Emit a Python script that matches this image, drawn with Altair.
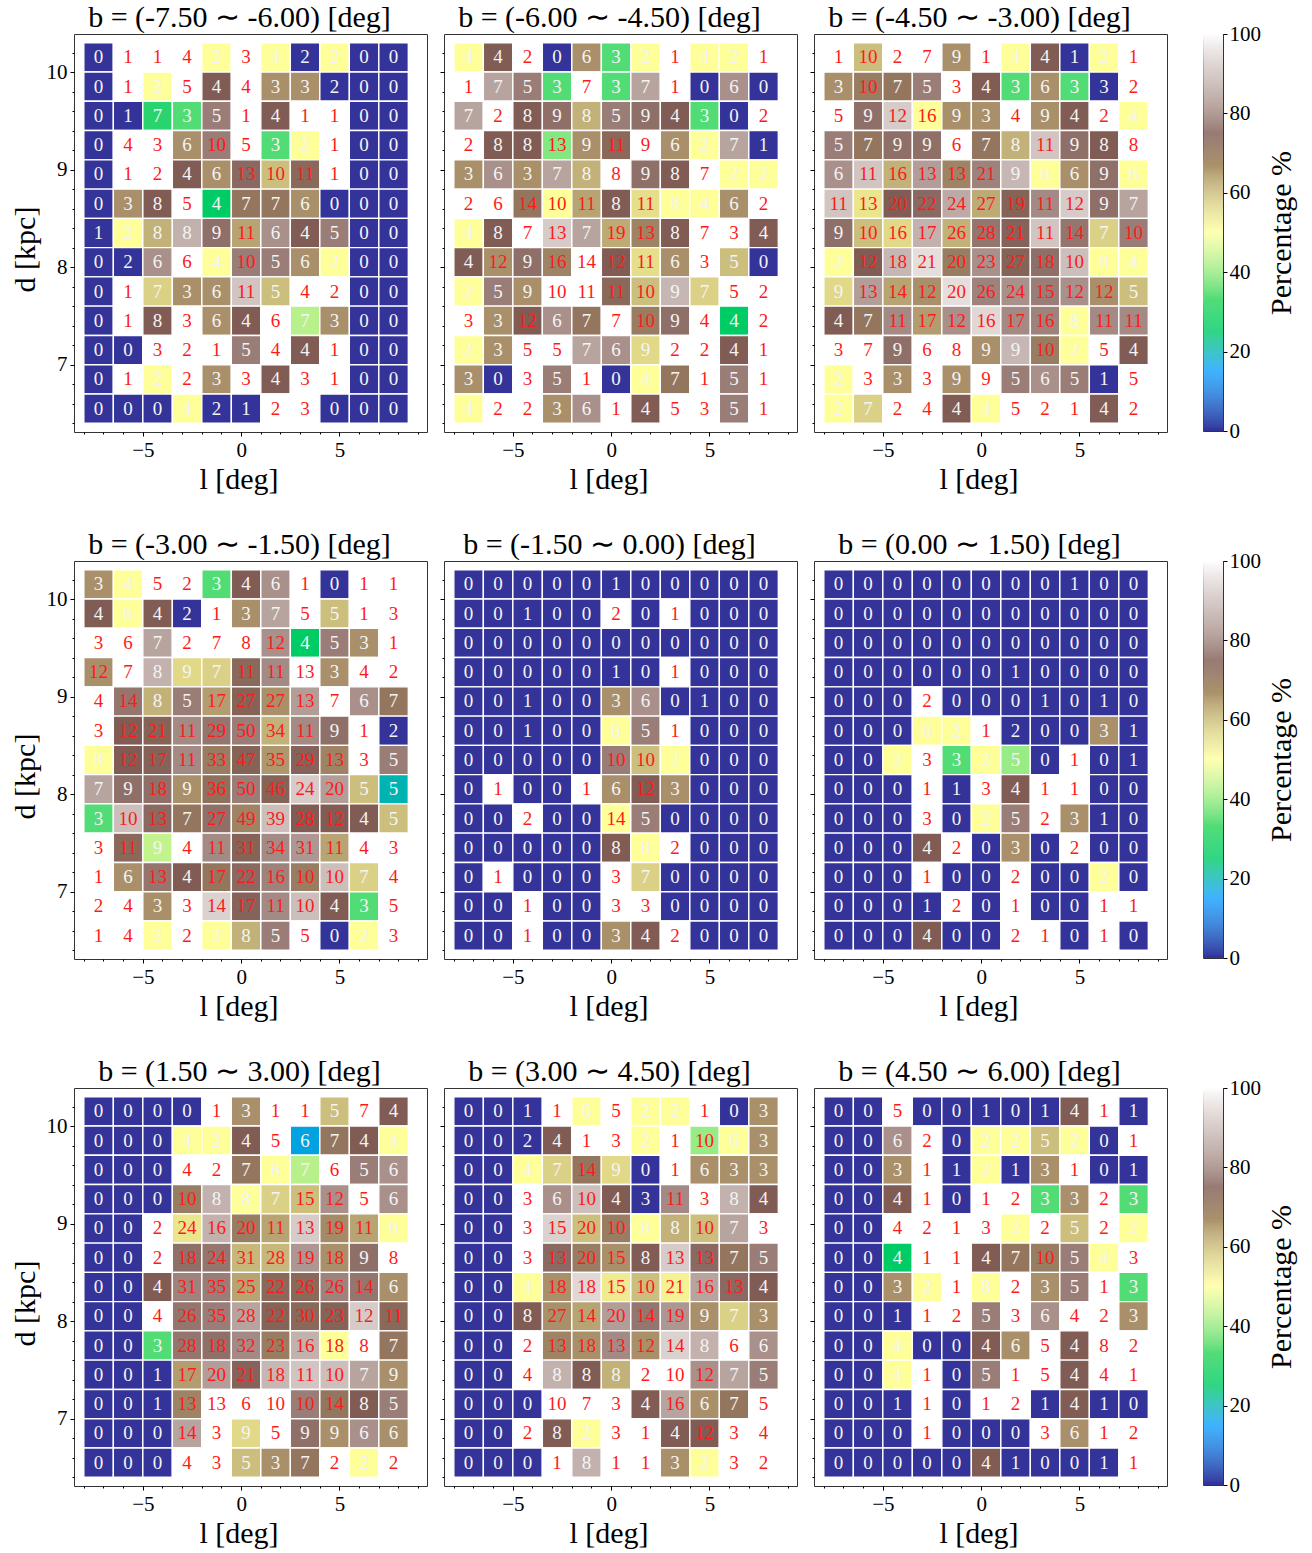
import altair as alt
import numpy as np
import pandas as pd

# Bin centres of the grid (columns in l, rows in d from top to bottom)
L_CENTERS = [-7.25, -5.75, -4.25, -2.75, -1.25, 0.25, 1.75, 3.25, 4.75, 6.25, 7.75]
D_CENTERS = [10.15, 9.85, 9.55, 9.25, 8.95, 8.65, 8.35, 8.05, 7.75, 7.45, 7.15, 6.85, 6.55]
L_HALF = 0.75
D_HALF = 0.15

TITLES = [
    "b = (-7.50 ∼ -6.00) [deg]", "b = (-6.00 ∼ -4.50) [deg]", "b = (-4.50 ∼ -3.00) [deg]",
    "b = (-3.00 ∼ -1.50) [deg]", "b = (-1.50 ∼ 0.00) [deg]", "b = (0.00 ∼ 1.50) [deg]",
    "b = (1.50 ∼ 3.00) [deg]", "b = (3.00 ∼ 4.50) [deg]", "b = (4.50 ∼ 6.00) [deg]",
]

# ---- b = (-7.50 ~ -6.00)
counts_1 = [
    [0, 1, 1, 4, 2, 3, 4, 2, 2, 0, 0],
    [0, 1, 2, 5, 4, 4, 3, 3, 2, 0, 0],
    [0, 1, 7, 3, 5, 1, 4, 1, 1, 0, 0],
    [0, 4, 3, 6, 10, 5, 3, 2, 1, 0, 0],
    [0, 1, 2, 4, 6, 13, 10, 11, 1, 0, 0],
    [0, 3, 8, 5, 4, 7, 7, 6, 0, 0, 0],
    [1, 2, 8, 8, 9, 11, 6, 4, 5, 0, 0],
    [0, 2, 6, 6, 4, 10, 5, 6, 2, 0, 0],
    [0, 1, 7, 3, 6, 11, 5, 4, 2, 0, 0],
    [0, 1, 8, 3, 6, 4, 6, 7, 3, 0, 0],
    [0, 0, 3, 2, 1, 5, 4, 4, 1, 0, 0],
    [0, 1, 2, 2, 3, 3, 4, 3, 1, 0, 0],
    [0, 0, 0, 4, 2, 1, 2, 3, 0, 0, 0],
]
pct_1 = [
    [0, 100, 100, 100, 50, 100, 50, 0, 50, 0, 0],
    [0, 100, 50, 100, 75, 100, 67, 67, 0, 0, 0],
    [0, 0, 29, 33, 80, 100, 75, 100, 100, 0, 0],
    [0, 100, 100, 67, 80, 100, 33, 50, 100, 0, 0],
    [0, 100, 100, 75, 67, 77, 60, 73, 100, 0, 0],
    [0, 67, 75, 100, 25, 71, 71, 67, 0, 0, 0],
    [0, 50, 62, 88, 78, 64, 83, 75, 80, 0, 0],
    [0, 0, 83, 100, 50, 80, 80, 67, 50, 0, 0],
    [0, 100, 57, 67, 67, 91, 60, 100, 100, 0, 0],
    [0, 100, 75, 100, 67, 75, 100, 43, 67, 0, 0],
    [0, 0, 100, 100, 100, 80, 100, 75, 100, 0, 0],
    [0, 100, 50, 100, 67, 100, 75, 100, 100, 0, 0],
    [0, 0, 0, 50, 0, 0, 100, 100, 0, 0, 0],
]

# ---- b = (-6.00 ~ -4.50)
counts_2 = [
    [4, 4, 2, 0, 6, 3, 2, 1, 4, 2, 1],
    [1, 7, 5, 3, 7, 3, 7, 1, 0, 6, 0],
    [7, 2, 8, 9, 8, 5, 9, 4, 3, 0, 2],
    [2, 8, 8, 13, 9, 11, 9, 6, 2, 7, 1],
    [3, 6, 3, 7, 8, 8, 9, 8, 7, 2, 2],
    [2, 6, 14, 10, 11, 8, 11, 8, 4, 6, 2],
    [4, 8, 7, 13, 7, 19, 13, 8, 7, 3, 4],
    [4, 12, 9, 16, 14, 12, 11, 6, 3, 5, 0],
    [2, 5, 9, 10, 11, 11, 10, 9, 7, 5, 2],
    [3, 3, 12, 6, 7, 7, 10, 9, 4, 4, 2],
    [2, 3, 5, 5, 7, 6, 9, 2, 2, 4, 1],
    [3, 0, 3, 5, 1, 0, 4, 7, 1, 5, 1],
    [4, 2, 2, 3, 6, 1, 4, 5, 3, 5, 1],
]
pct_2 = [
    [50, 75, 100, 0, 67, 33, 50, 100, 50, 50, 100],
    [100, 86, 80, 33, 100, 33, 86, 100, 0, 83, 0],
    [86, 100, 75, 78, 62, 80, 78, 75, 33, 0, 100],
    [100, 75, 75, 38, 67, 73, 100, 67, 50, 86, 0],
    [67, 83, 67, 86, 62, 100, 78, 75, 100, 50, 50],
    [100, 100, 71, 50, 64, 75, 55, 50, 50, 67, 100],
    [50, 75, 100, 92, 86, 63, 69, 75, 100, 100, 75],
    [75, 67, 78, 69, 100, 75, 55, 67, 100, 60, 0],
    [50, 80, 67, 100, 100, 73, 60, 89, 57, 100, 100],
    [100, 67, 75, 83, 71, 100, 70, 78, 100, 25, 100],
    [50, 67, 100, 100, 86, 83, 56, 100, 100, 75, 100],
    [67, 0, 100, 80, 100, 0, 50, 71, 100, 80, 100],
    [50, 100, 100, 67, 83, 100, 75, 100, 100, 80, 100],
]

# ---- b = (-4.50 ~ -3.00)
counts_3 = [
    [1, 10, 2, 7, 9, 1, 4, 4, 1, 2, 1],
    [3, 10, 7, 5, 3, 4, 3, 6, 3, 3, 2],
    [5, 9, 12, 16, 9, 3, 4, 9, 4, 2, 4],
    [5, 7, 9, 9, 6, 7, 8, 11, 9, 8, 8],
    [6, 11, 16, 13, 13, 21, 9, 6, 6, 9, 6],
    [11, 13, 20, 22, 24, 27, 19, 11, 12, 9, 7],
    [9, 10, 16, 17, 26, 28, 21, 11, 14, 7, 10],
    [2, 12, 18, 21, 20, 23, 27, 18, 10, 8, 4],
    [9, 13, 14, 12, 20, 26, 24, 15, 12, 12, 5],
    [4, 7, 11, 17, 12, 16, 17, 16, 8, 11, 11],
    [3, 7, 9, 6, 8, 9, 9, 10, 2, 5, 4],
    [2, 3, 3, 3, 9, 9, 5, 6, 5, 1, 5],
    [2, 7, 2, 4, 4, 4, 5, 2, 1, 4, 2],
]
pct_3 = [
    [100, 60, 100, 100, 67, 100, 50, 75, 0, 50, 100],
    [67, 70, 71, 80, 100, 75, 33, 67, 33, 0, 100],
    [100, 78, 92, 50, 67, 67, 100, 67, 75, 100, 50],
    [80, 71, 78, 78, 100, 71, 62, 91, 78, 75, 100],
    [83, 91, 62, 85, 69, 81, 89, 50, 67, 78, 50],
    [91, 54, 75, 77, 87, 63, 74, 82, 92, 78, 86],
    [78, 60, 56, 88, 62, 79, 76, 91, 79, 57, 80],
    [50, 75, 89, 95, 70, 83, 74, 78, 90, 50, 50],
    [56, 85, 64, 67, 95, 81, 83, 80, 83, 67, 60],
    [75, 71, 82, 65, 83, 94, 82, 81, 50, 82, 82],
    [100, 100, 78, 100, 100, 67, 89, 70, 50, 100, 75],
    [50, 100, 67, 100, 67, 100, 80, 83, 80, 0, 100],
    [50, 57, 100, 100, 75, 50, 100, 100, 100, 75, 100],
]

# ---- b = (-3.00 ~ -1.50)
counts_4 = [
    [3, 4, 5, 2, 3, 4, 6, 1, 0, 1, 1],
    [4, 6, 4, 2, 1, 3, 7, 5, 5, 1, 3],
    [3, 6, 7, 2, 7, 8, 12, 4, 5, 3, 1],
    [12, 7, 8, 9, 7, 11, 11, 13, 3, 4, 2],
    [4, 14, 8, 5, 17, 27, 27, 13, 7, 6, 7],
    [3, 12, 21, 11, 29, 50, 34, 11, 9, 1, 2],
    [8, 12, 17, 11, 33, 47, 35, 29, 13, 3, 5],
    [7, 9, 18, 9, 36, 50, 46, 24, 20, 5, 5],
    [3, 10, 13, 7, 27, 49, 39, 28, 12, 4, 5],
    [3, 11, 9, 4, 11, 31, 34, 31, 11, 4, 3],
    [1, 6, 13, 4, 17, 22, 16, 10, 10, 7, 4],
    [2, 4, 3, 3, 14, 17, 11, 10, 4, 3, 5],
    [1, 4, 2, 2, 2, 8, 5, 5, 0, 2, 3],
]
pct_4 = [
    [67, 50, 100, 100, 33, 75, 83, 100, 0, 100, 100],
    [75, 50, 75, 0, 100, 67, 86, 100, 60, 100, 100],
    [100, 100, 86, 100, 100, 100, 83, 25, 80, 67, 100],
    [67, 100, 88, 56, 57, 73, 82, 100, 67, 100, 100],
    [100, 79, 62, 80, 65, 74, 67, 85, 100, 83, 71],
    [100, 75, 74, 82, 79, 80, 62, 82, 78, 100, 0],
    [50, 75, 76, 82, 70, 74, 66, 76, 69, 100, 80],
    [86, 78, 78, 67, 72, 80, 74, 92, 85, 60, 20],
    [33, 90, 77, 71, 78, 69, 90, 75, 75, 75, 60],
    [100, 73, 44, 100, 82, 74, 82, 84, 64, 100, 100],
    [100, 67, 79, 75, 71, 77, 81, 70, 90, 57, 100],
    [100, 100, 67, 100, 93, 76, 82, 90, 75, 33, 100],
    [100, 100, 50, 100, 50, 62, 80, 100, 0, 50, 100],
]

# ---- b = (-1.50 ~ 0.00)
counts_5 = [
    [0, 0, 0, 0, 0, 1, 0, 0, 0, 0, 0],
    [0, 0, 1, 0, 0, 2, 0, 1, 0, 0, 0],
    [0, 0, 0, 0, 0, 0, 0, 0, 0, 0, 0],
    [0, 0, 0, 0, 0, 1, 0, 1, 0, 0, 0],
    [0, 0, 1, 0, 0, 3, 6, 0, 1, 0, 0],
    [0, 0, 1, 0, 0, 6, 5, 1, 0, 0, 0],
    [0, 0, 0, 0, 0, 10, 10, 2, 0, 0, 0],
    [0, 1, 0, 0, 1, 6, 12, 3, 0, 0, 0],
    [0, 0, 2, 0, 0, 14, 5, 0, 0, 0, 0],
    [0, 0, 0, 0, 0, 8, 8, 2, 0, 0, 0],
    [0, 1, 0, 0, 0, 3, 7, 0, 0, 0, 0],
    [0, 0, 1, 0, 0, 3, 3, 0, 0, 0, 0],
    [0, 0, 1, 0, 0, 3, 4, 2, 0, 0, 0],
]
pct_5 = [
    [0, 0, 0, 0, 0, 0, 0, 0, 0, 0, 0],
    [0, 0, 0, 0, 0, 100, 0, 100, 0, 0, 0],
    [0, 0, 0, 0, 0, 0, 0, 0, 0, 0, 0],
    [0, 0, 0, 0, 0, 0, 0, 100, 0, 0, 0],
    [0, 0, 0, 0, 0, 67, 83, 0, 0, 0, 0],
    [0, 0, 0, 0, 0, 50, 80, 100, 0, 0, 0],
    [0, 0, 0, 0, 0, 80, 60, 50, 0, 0, 0],
    [0, 100, 0, 0, 100, 67, 75, 67, 0, 0, 0],
    [0, 0, 100, 0, 0, 50, 80, 0, 0, 0, 0],
    [0, 0, 0, 0, 0, 75, 50, 100, 0, 0, 0],
    [0, 100, 0, 0, 0, 100, 57, 0, 0, 0, 0],
    [0, 0, 100, 0, 0, 100, 100, 0, 0, 0, 0],
    [0, 0, 100, 0, 0, 67, 75, 100, 0, 0, 0],
]

# ---- b = (0.00 ~ 1.50)
counts_6 = [
    [0, 0, 0, 0, 0, 0, 0, 0, 1, 0, 0],
    [0, 0, 0, 0, 0, 0, 0, 0, 0, 0, 0],
    [0, 0, 0, 0, 0, 0, 0, 0, 0, 0, 0],
    [0, 0, 0, 0, 0, 0, 1, 0, 0, 0, 0],
    [0, 0, 0, 2, 0, 0, 0, 1, 0, 1, 0],
    [0, 0, 0, 6, 2, 1, 2, 0, 0, 3, 1],
    [0, 0, 2, 3, 3, 2, 5, 0, 1, 0, 1],
    [0, 0, 0, 1, 1, 3, 4, 1, 1, 0, 0],
    [0, 0, 0, 3, 0, 2, 5, 2, 3, 1, 0],
    [0, 0, 0, 4, 2, 0, 3, 0, 2, 0, 0],
    [0, 0, 0, 1, 0, 0, 2, 0, 0, 2, 0],
    [0, 0, 0, 1, 2, 0, 1, 0, 0, 1, 1],
    [0, 0, 0, 4, 0, 0, 2, 1, 0, 1, 0],
]
pct_6 = [
    [0, 0, 0, 0, 0, 0, 0, 0, 0, 0, 0],
    [0, 0, 0, 0, 0, 0, 0, 0, 0, 0, 0],
    [0, 0, 0, 0, 0, 0, 0, 0, 0, 0, 0],
    [0, 0, 0, 0, 0, 0, 0, 0, 0, 0, 0],
    [0, 0, 0, 100, 0, 0, 0, 0, 0, 0, 0],
    [0, 0, 0, 50, 50, 100, 0, 0, 0, 67, 0],
    [0, 0, 50, 100, 33, 50, 40, 0, 100, 0, 0],
    [0, 0, 0, 100, 0, 100, 75, 100, 100, 0, 0],
    [0, 0, 0, 100, 0, 50, 80, 100, 67, 0, 0],
    [0, 0, 0, 75, 100, 0, 67, 0, 100, 0, 0],
    [0, 0, 0, 100, 0, 0, 100, 0, 0, 50, 0],
    [0, 0, 0, 0, 100, 0, 100, 0, 0, 100, 100],
    [0, 0, 0, 75, 0, 0, 100, 100, 0, 100, 0],
]

# ---- b = (1.50 ~ 3.00)
counts_7 = [
    [0, 0, 0, 0, 1, 3, 1, 1, 5, 7, 4],
    [0, 0, 0, 4, 2, 4, 5, 6, 7, 4, 4],
    [0, 0, 0, 4, 2, 7, 6, 7, 6, 5, 6],
    [0, 0, 0, 10, 8, 8, 7, 15, 12, 5, 6],
    [0, 0, 2, 24, 16, 20, 11, 13, 19, 11, 6],
    [0, 0, 2, 18, 24, 31, 28, 19, 18, 9, 8],
    [0, 0, 4, 31, 35, 25, 22, 26, 26, 14, 6],
    [0, 0, 4, 26, 35, 28, 22, 30, 23, 12, 11],
    [0, 0, 3, 28, 18, 32, 23, 16, 18, 8, 7],
    [0, 0, 1, 17, 20, 21, 18, 11, 10, 7, 9],
    [0, 0, 1, 13, 13, 6, 10, 10, 14, 8, 5],
    [0, 0, 0, 14, 3, 9, 5, 9, 9, 6, 6],
    [0, 0, 0, 4, 3, 5, 3, 7, 2, 2, 2],
]
pct_7 = [
    [0, 0, 0, 0, 100, 67, 100, 100, 60, 100, 75],
    [0, 0, 0, 50, 50, 75, 100, 17, 71, 75, 50],
    [0, 0, 0, 100, 100, 71, 50, 43, 100, 80, 83],
    [0, 0, 0, 70, 88, 50, 57, 60, 83, 100, 83],
    [0, 0, 100, 54, 88, 70, 64, 92, 68, 64, 50],
    [0, 0, 100, 78, 79, 61, 61, 84, 67, 78, 100],
    [0, 0, 75, 81, 80, 64, 73, 73, 81, 79, 67],
    [0, 0, 100, 79, 80, 86, 74, 73, 74, 92, 73],
    [0, 0, 33, 79, 78, 82, 70, 88, 50, 100, 71],
    [0, 0, 0, 65, 85, 76, 89, 91, 90, 86, 67],
    [0, 0, 0, 69, 100, 100, 100, 80, 71, 75, 80],
    [0, 0, 0, 86, 100, 56, 100, 78, 67, 83, 67],
    [0, 0, 0, 100, 100, 60, 67, 71, 100, 50, 100],
]

# ---- b = (3.00 ~ 4.50)
counts_8 = [
    [0, 0, 1, 1, 6, 5, 2, 2, 1, 0, 3],
    [0, 0, 2, 4, 1, 3, 2, 1, 10, 6, 3],
    [0, 0, 4, 7, 14, 9, 0, 1, 6, 3, 3],
    [0, 0, 3, 6, 10, 4, 3, 11, 3, 8, 4],
    [0, 0, 3, 15, 20, 10, 8, 8, 10, 7, 3],
    [0, 0, 3, 13, 20, 15, 8, 13, 13, 7, 5],
    [0, 0, 4, 18, 18, 15, 10, 21, 16, 13, 4],
    [0, 0, 8, 27, 14, 20, 14, 19, 9, 7, 3],
    [0, 0, 2, 13, 18, 13, 12, 14, 8, 6, 6],
    [0, 0, 4, 8, 8, 8, 2, 10, 12, 7, 5],
    [0, 0, 0, 10, 7, 3, 4, 16, 6, 7, 5],
    [0, 0, 2, 8, 2, 3, 1, 4, 12, 3, 4],
    [0, 0, 0, 1, 8, 1, 1, 3, 2, 3, 2],
]
pct_8 = [
    [0, 0, 0, 100, 50, 100, 50, 50, 100, 0, 67],
    [0, 0, 0, 75, 100, 100, 50, 100, 40, 50, 67],
    [0, 0, 50, 57, 71, 56, 0, 100, 67, 67, 67],
    [0, 0, 100, 83, 90, 75, 0, 82, 100, 88, 75],
    [0, 0, 100, 93, 60, 70, 50, 62, 60, 86, 100],
    [0, 0, 100, 77, 70, 67, 75, 92, 77, 71, 80],
    [0, 0, 50, 67, 94, 53, 60, 52, 86, 77, 75],
    [0, 0, 75, 67, 64, 85, 79, 84, 67, 57, 67],
    [0, 0, 100, 69, 67, 82, 67, 93, 88, 100, 83],
    [0, 0, 100, 88, 75, 62, 100, 100, 83, 86, 80],
    [0, 0, 0, 100, 100, 100, 75, 86, 67, 71, 100],
    [0, 0, 100, 75, 50, 100, 100, 75, 75, 100, 100],
    [0, 0, 0, 100, 88, 100, 100, 67, 50, 100, 100],
]

# ---- b = (4.50 ~ 6.00)
counts_9 = [
    [0, 0, 5, 0, 0, 1, 0, 1, 4, 1, 1],
    [0, 0, 6, 2, 0, 2, 2, 5, 2, 0, 1],
    [0, 0, 3, 1, 1, 2, 1, 3, 1, 0, 1],
    [0, 0, 4, 1, 0, 1, 2, 3, 3, 2, 3],
    [0, 0, 4, 2, 1, 3, 2, 2, 5, 2, 2],
    [0, 0, 4, 1, 1, 4, 7, 10, 5, 4, 3],
    [0, 0, 3, 2, 1, 8, 2, 3, 5, 1, 3],
    [0, 0, 1, 1, 2, 5, 3, 6, 4, 2, 3],
    [0, 0, 4, 0, 0, 4, 6, 5, 4, 8, 2],
    [0, 0, 4, 1, 0, 5, 1, 5, 4, 4, 1],
    [0, 0, 1, 1, 0, 1, 2, 1, 4, 1, 0],
    [0, 0, 0, 1, 0, 0, 0, 3, 6, 1, 2],
    [0, 0, 0, 0, 0, 4, 1, 0, 0, 1, 1],
]
pct_9 = [
    [0, 0, 100, 0, 0, 0, 0, 0, 75, 100, 0],
    [0, 0, 83, 100, 0, 50, 50, 60, 50, 0, 100],
    [0, 0, 67, 100, 0, 50, 0, 67, 100, 0, 0],
    [0, 0, 75, 100, 0, 100, 100, 33, 67, 100, 33],
    [0, 0, 100, 100, 100, 100, 50, 100, 60, 100, 50],
    [0, 0, 25, 100, 100, 75, 71, 70, 80, 50, 100],
    [0, 0, 67, 50, 100, 50, 100, 67, 80, 100, 33],
    [0, 0, 0, 100, 100, 80, 100, 83, 100, 100, 67],
    [0, 0, 50, 0, 0, 75, 67, 100, 75, 100, 100],
    [0, 0, 50, 100, 0, 80, 100, 100, 75, 100, 100],
    [0, 0, 0, 100, 0, 100, 100, 0, 75, 0, 0],
    [0, 0, 0, 100, 0, 0, 0, 100, 67, 100, 100],
    [0, 0, 0, 0, 0, 75, 0, 0, 0, 0, 100],
]

COUNTS = [counts_1, counts_2, counts_3, counts_4, counts_5, counts_6, counts_7, counts_8, counts_9]
PCTS = [pct_1, pct_2, pct_3, pct_4, pct_5, pct_6, pct_7, pct_8, pct_9]

# colour bar tick labels
CBAR_TICKS = [0, 20, 40, 60, 80, 100]

FONT = "Liberation Serif"
W, H = 353, 398

# terrain-style colour map
TERRAIN_STOPS = [0, 15, 25, 50, 75, 100]
TERRAIN_COLORS = ["#333399", "#0099ff", "#00cc66", "#ffff99", "#805c54", "#ffffff"]
cscale = alt.Scale(domain=TERRAIN_STOPS, range=TERRAIN_COLORS, interpolate="rgb", clamp=True)
xscale = alt.Scale(domain=[-8.5, 9.45], nice=False, zero=False)
yscale = alt.Scale(domain=[6.31, 10.39], nice=False, zero=False)


def grid_frame(counts, pcts):
    rows = []
    for j, d in enumerate(D_CENTERS):
        for i, l in enumerate(L_CENTERS):
            n = counts[j][i]
            p = pcts[j][i]
            rows.append({
                "l": l, "d": d,
                "l0": l - L_HALF, "l1": l + L_HALF,
                "d0": d - D_HALF, "d1": d + D_HALF,
                "n": n, "pct": p,
                "tc": "#ff1a1a" if (n >= 10 or p >= 100) else "#f4f4f4",
            })
    return pd.DataFrame(rows)


def panel(k, first_col):
    df = grid_frame(COUNTS[k], PCTS[k])
    base = alt.Chart(df)
    x_major = alt.Axis(values=[-5, 0, 5], tickSize=4, tickColor="black", tickWidth=1,
                       labelFontSize=21, labelColor="black", labelPadding=3,
                       title="l [deg]", titleFontSize=30, titleFontWeight="normal",
                       titleColor="black", titlePadding=4, titleX=W / 2 - 12,
                       domain=False, grid=False)
    y_major = alt.Axis(values=[7, 8, 9, 10], tickSize=4, tickColor="black", tickWidth=1,
                       labelFontSize=21, labelColor="black", labelPadding=3,
                       labels=first_col,
                       title="d [kpc]" if first_col else "", titleFontSize=30,
                       titleFontWeight="normal", titleColor="black", titlePadding=6,
                       titleY=H / 2 + 16, domain=False, grid=False)
    x_minor = alt.Axis(values=list(range(-8, 10)), tickSize=2, tickColor="black",
                       labels=False, title=None, domain=False, grid=False, orient="bottom")
    y_minor = alt.Axis(values=[round(6.4 + 0.2 * m, 1) for m in range(21)], tickSize=2,
                       tickColor="black", labels=False, title=None, domain=False,
                       grid=False, orient="left")

    rects = base.mark_rect(stroke="white", strokeWidth=1.4).encode(
        x=alt.X("l0:Q", scale=xscale, axis=x_major),
        x2="l1:Q",
        y=alt.Y("d0:Q", scale=yscale, axis=y_major),
        y2="d1:Q",
        color=alt.Color("pct:Q", scale=cscale, legend=None),
    )
    labels = base.mark_text(font=FONT, fontSize=19, baseline="middle", align="center").encode(
        x=alt.X("l:Q", scale=xscale, axis=x_minor),
        y=alt.Y("d:Q", scale=yscale, axis=y_minor),
        text="n:Q",
        fill=alt.Fill("tc:N", scale=None, legend=None),
    )
    return alt.layer(rects, labels).resolve_axis(x="independent", y="independent").properties(
        width=W, height=H,
        title=alt.TitleParams(TITLES[k], fontSize=30, fontWeight="normal", font=FONT,
                              color="black", offset=1, dx=-11),
    )


def colorbar():
    steps = np.arange(0, 100, 0.25)
    cb = pd.DataFrame({"v": steps, "v2": steps + 0.25})
    return alt.Chart(cb).mark_rect().encode(
        y=alt.Y("v:Q", scale=alt.Scale(domain=[0, 100], nice=False),
                axis=alt.Axis(orient="right", values=CBAR_TICKS, tickSize=4, tickColor="black",
                              labelFontSize=21, labelColor="black", labelPadding=2,
                              title="Percentage %", titleFontSize=30, titleFontWeight="normal",
                              titleColor="black", titleAngle=270, titleBaseline="top",
                              titlePadding=6, domain=False, grid=False)),
        y2="v2:Q",
        color=alt.Color("v:Q", scale=cscale, legend=None),
    ).properties(width=20, height=397)


rows = []
for r in range(3):
    panels = alt.hconcat(*[panel(3 * r + c, c == 0) for c in range(3)], spacing=11)
    rows.append(alt.hconcat(panels, colorbar(), spacing=34))

chart = alt.vconcat(*rows, spacing=34).configure(
    font=FONT, background="white", padding={"left": 9, "top": 2, "right": 5, "bottom": 5}
).configure_view(stroke="#333333", strokeWidth=1)

chart.save("out.html", embed_options={"renderer": "svg", "actions": False})
